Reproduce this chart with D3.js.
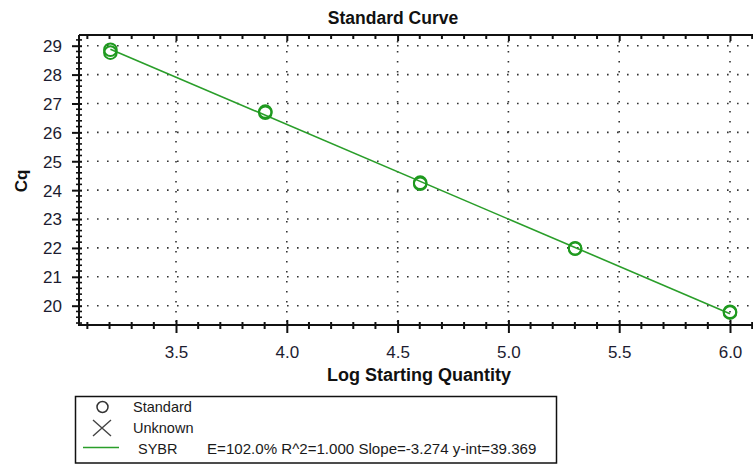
<!DOCTYPE html>
<html>
<head>
<meta charset="utf-8">
<script src="https://cdn.jsdelivr.net/npm/d3@7/dist/d3.min.js"></script>
<style>
  html, body { margin: 0; padding: 0; background: #fff; }
  svg { display: block; font-family: "Liberation Sans", Arial, sans-serif; }
</style>
</head>
<body>
<svg id="chart" width="753" height="465"></svg>
<script>
// Standard curve: Cq against log starting quantity (replicate wells)
const logQuantity = [3.204, 3.204, 3.903, 3.903, 4.602, 4.602, 5.301, 5.301, 6.0, 6.0];
const cqValues    = [28.86, 28.76, 26.72, 26.68, 24.26, 24.22, 21.99, 21.97, 19.79, 19.76];
const fitSlope = -3.274;
const fitIntercept = 39.369;
const fitEfficiency = 102.0;
const fitR2 = 1.000;
const xTickValues = [3.5, 4.0, 4.5, 5.0, 5.5, 6.0];
const yTickValues = [20, 21, 22, 23, 24, 25, 26, 27, 28, 29];
const legendNames = ["Standard", "Unknown", "SYBR"];

const svg = d3.select("#chart");
const W = 753, H = 465;
const plotLeft = 79, plotRight = W, plotTop = 35, plotBottom = 325;

const x = d3.scaleLinear().domain([3.5, 6.0]).range([176, 730]);
const y = d3.scaleLinear().domain([20, 29]).range([305.7, 45.7]);

const green = "#2a9e2a";
const ink = "#111";
const labelInk = "#1c1c30";

// minor tick positions
const xMinor = d3.range(31, 62).map(v => v / 10).filter(v => x(v) >= plotLeft && x(v) <= plotRight);
const yMinor = d3.range(97, 148).map(v => v / 5).filter(v => y(v) >= plotTop && y(v) <= plotBottom);
const notMajorX = v => !xTickValues.some(t => Math.abs(t - v) < 1e-6);
const notMajorY = v => !yTickValues.some(t => Math.abs(t - v) < 1e-6);

// dotted grid at major ticks
const grid = svg.append("g").attr("stroke", "#333").attr("stroke-width", 1.6)
  .attr("stroke-dasharray", "1.6,8.4");
grid.selectAll(".gh").data(yTickValues).join("line")
  .attr("x1", plotLeft + 8).attr("x2", plotRight)
  .attr("y1", d => y(d)).attr("y2", d => y(d));
grid.selectAll(".gv").data(xTickValues).join("line")
  .attr("x1", d => x(d)).attr("x2", d => x(d))
  .attr("y1", plotTop + 6).attr("y2", plotBottom - 3);

// bottom axis
const xAxis = svg.append("g").attr("transform", `translate(0,${plotBottom})`)
  .call(d3.axisBottom(x).tickValues(xTickValues).tickFormat(d3.format(".1f")).tickSize(8).tickPadding(13));
xAxis.select(".domain").remove();
xAxis.selectAll(".tick line").attr("y1", -5).attr("y2", 8).attr("stroke", ink).attr("stroke-width", 2);
xAxis.selectAll(".tick text").attr("font-size", 17).attr("fill", labelInk);
xAxis.append("g").selectAll("line").data(xMinor.filter(notMajorX)).join("line")
  .attr("x1", d => x(d)).attr("x2", d => x(d)).attr("y1", -3).attr("y2", 4)
  .attr("stroke", ink).attr("stroke-width", 2);

// left axis
const yAxis = svg.append("g").attr("transform", `translate(${plotLeft},0)`)
  .call(d3.axisLeft(y).tickValues(yTickValues).tickSize(7).tickPadding(10));
yAxis.select(".domain").remove();
yAxis.selectAll(".tick line").attr("x1", -7).attr("x2", 3).attr("stroke", ink).attr("stroke-width", 2);
yAxis.selectAll(".tick text").attr("font-size", 17).attr("fill", labelInk).attr("dy", "0.35em");
yAxis.append("g").selectAll("line").data(yMinor.filter(notMajorY)).join("line")
  .attr("x1", -3).attr("x2", 3).attr("y1", d => y(d)).attr("y2", d => y(d))
  .attr("stroke", ink).attr("stroke-width", 1.6);

// top frame with hanging ticks
const topAxis = svg.append("g").attr("transform", `translate(0,${plotTop})`)
  .call(d3.axisTop(x).tickValues(xTickValues).tickSize(-6).tickFormat(""));
topAxis.select(".domain").remove();
topAxis.selectAll(".tick line").attr("stroke", ink).attr("stroke-width", 2);
topAxis.append("g").selectAll("line").data(xMinor.filter(notMajorX)).join("line")
  .attr("x1", d => x(d)).attr("x2", d => x(d)).attr("y1", 0).attr("y2", 4)
  .attr("stroke", ink).attr("stroke-width", 2);

// frame lines
svg.append("line").attr("x1", plotLeft).attr("x2", plotRight).attr("y1", plotTop).attr("y2", plotTop)
  .attr("stroke", ink).attr("stroke-width", 2.2);
svg.append("line").attr("x1", plotLeft).attr("x2", plotRight).attr("y1", plotBottom).attr("y2", plotBottom)
  .attr("stroke", ink).attr("stroke-width", 2);
svg.append("line").attr("x1", plotLeft).attr("x2", plotLeft).attr("y1", plotTop).attr("y2", plotBottom + 1)
  .attr("stroke", ink).attr("stroke-width", 2);

// fitted line over the data range
const xMin = d3.min(logQuantity), xMax = d3.max(logQuantity);
const fit = v => fitSlope * v + fitIntercept;
svg.append("path")
  .datum([xMin, xMax])
  .attr("d", d3.line().x(d => x(d)).y(d => y(fit(d))))
  .attr("stroke", green).attr("stroke-width", 1.6).attr("fill", "none");

// standards
svg.append("g").selectAll("circle").data(logQuantity.map((v, i) => [v, cqValues[i]])).join("circle")
  .attr("cx", d => x(d[0])).attr("cy", d => y(d[1])).attr("r", 6.3)
  .attr("fill", "none").attr("stroke", "#1f9a1f").attr("stroke-width", 2);

// titles
svg.append("text").attr("x", 393).attr("y", 23.5).attr("text-anchor", "middle")
  .attr("font-size", 17.5).attr("font-weight", "bold").attr("fill", "#111").text("Standard Curve");
svg.append("text").attr("x", 419).attr("y", 381).attr("text-anchor", "middle")
  .attr("font-size", 18).attr("font-weight", "bold").attr("fill", "#111").text("Log Starting Quantity");
svg.append("text").attr("transform", "translate(27,181) rotate(-90)").attr("text-anchor", "middle")
  .attr("font-size", 17).attr("font-weight", "bold").attr("fill", "#111").text("Cq");

// legend
const lg = svg.append("g");
lg.append("rect").attr("x", 75.5).attr("y", 396.5).attr("width", 481).attr("height", 66.5)
  .attr("fill", "#fff").attr("stroke", ink).attr("stroke-width", 1.5);
lg.append("circle").attr("cx", 102.5).attr("cy", 407).attr("r", 5.5)
  .attr("fill", "none").attr("stroke", "#333").attr("stroke-width", 1.5);
lg.append("path").attr("d", d3.line()([[93, 420], [111, 436]]) + d3.line()([[111, 420], [93, 436]]))
  .attr("stroke", "#444").attr("stroke-width", 1.4).attr("fill", "none");
lg.append("line").attr("x1", 83).attr("x2", 119).attr("y1", 447.5).attr("y2", 447.5)
  .attr("stroke", green).attr("stroke-width", 1.5);
const lgText = [
  { t: legendNames[0], x: 133, y: 412, s: 14.5 },
  { t: legendNames[1], x: 133, y: 433, s: 14.5 },
  { t: legendNames[2], x: 138, y: 453.5, s: 14.5 },
  { t: `E=${fitEfficiency.toFixed(1)}% R^2=${fitR2.toFixed(3)} Slope=${fitSlope.toFixed(3)} y-int=${fitIntercept.toFixed(3)}`, x: 207, y: 453.5, s: 15.1 }
];
lg.selectAll("text.item").data(lgText).join("text")
  .attr("x", d => d.x).attr("y", d => d.y).attr("font-size", d => d.s).attr("fill", "#1a1a1a").text(d => d.t);
</script>
</body>
</html>
